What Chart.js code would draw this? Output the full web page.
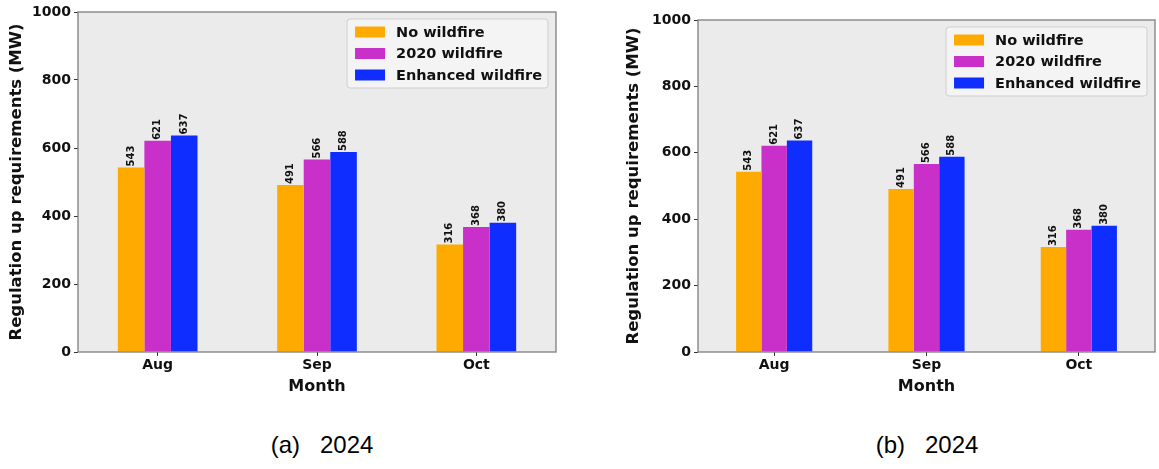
<!DOCTYPE html>
<html>
<head>
<meta charset="utf-8">
<script src="https://cdn.jsdelivr.net/npm/chart.js@4.4.1/dist/chart.umd.min.js"></script>
<style>
  html, body { margin: 0; padding: 0; background: #fff; }
  body { width: 1159px; height: 469px; position: relative; overflow: hidden; }
  .panel { position: absolute; top: 0; height: 400px; }
  .cap {
    position: absolute; top: 433px;
    font-family: "Liberation Sans", Arial, sans-serif;
    font-size: 24px; line-height: 24px; white-space: pre; color: #000;
    transform: translateX(-50%);
  }
</style>
</head>
<body>
<div class="panel" style="left:0;width:580px"><canvas id="chartA"></canvas></div>
<div class="panel" style="left:580px;width:579px"><canvas id="chartB"></canvas></div>
<div class="cap" style="left:322px">(a)   2024</div>
<div class="cap" style="left:927px">(b)   2024</div>
<script>
// Monthly regulation-up requirements (MW) for 2024
const months = ['Aug', 'Sep', 'Oct'];
const noWildfire = [543, 491, 316];
const wildfire2020 = [621, 566, 368];
const enhancedWildfire = [637, 588, 380];
const yTicks = [0, 200, 400, 600, 800, 1000];

const seriesNames = ['No wildfire', '2020 wildfire', 'Enhanced wildfire'];
const seriesColors = ['#FFAA00', '#C92FC9', '#0F2DFF'];

const FONT = '"DejaVu Sans", Verdana, sans-serif';

// Plot background and frame around the chart area
const framePlugin = {
  id: 'frame',
  beforeDatasetsDraw(chart) {
    const { ctx, chartArea: a } = chart;
    ctx.save();
    ctx.fillStyle = '#EBEBEB';
    ctx.fillRect(a.left, a.top, a.right - a.left, a.bottom - a.top);
    ctx.restore();
  },
  afterDatasetsDraw(chart) {
    const { ctx, chartArea: a } = chart;
    ctx.save();
    ctx.strokeStyle = '#7E7E7E';
    ctx.lineWidth = 1.3;
    ctx.strokeRect(a.left, a.top, a.right - a.left, a.bottom - a.top);
    ctx.restore();
  }
};

// Rotated value labels above each bar
const valueLabelPlugin = {
  id: 'valueLabels',
  afterDatasetsDraw(chart) {
    const { ctx } = chart;
    ctx.save();
    ctx.font = 'bold 10px ' + FONT;
    ctx.fillStyle = '#111';
    ctx.textAlign = 'left';
    ctx.textBaseline = 'middle';
    chart.data.datasets.forEach((ds, i) => {
      chart.getDatasetMeta(i).data.forEach((bar, j) => {
        ctx.save();
        ctx.translate(bar.x, bar.y - 1);
        ctx.rotate(-Math.PI / 2);
        ctx.fillText(String(ds.data[j]), 0, 0);
        ctx.restore();
      });
    });
    ctx.restore();
  }
};

// Legend box drawn inside the upper-right corner of the plot
const insetLegendPlugin = {
  id: 'insetLegend',
  afterDraw(chart) {
    const { ctx, chartArea: a } = chart;
    const dsets = chart.data.datasets;
    ctx.save();
    ctx.font = 'bold 14.5px ' + FONT;
    const textW = Math.max(...dsets.map(d => ctx.measureText(d.label).width));
    const padL = 8, patchW = 30, patchH = 11, gap = 11, padR = 6;
    const w = padL + patchW + gap + textW + padR;
    const h = 69;
    const x = a.right - 8 - w;
    const y = a.top + 7;
    ctx.beginPath();
    ctx.roundRect(x, y, w, h, 3);
    ctx.fillStyle = 'rgba(246,246,246,0.85)';
    ctx.fill();
    ctx.strokeStyle = '#CFCFCF';
    ctx.lineWidth = 1;
    ctx.stroke();
    dsets.forEach((d, i) => {
      const cy = y + 13 + i * 21.5;
      ctx.fillStyle = d.backgroundColor;
      ctx.fillRect(x + padL, cy - patchH / 2, patchW, patchH);
      ctx.fillStyle = '#111';
      ctx.textAlign = 'left';
      ctx.textBaseline = 'middle';
      ctx.fillText(d.label, x + padL + patchW + gap, cy + 1);
    });
    ctx.restore();
  }
};

function makeChart(canvasId, pad, yWidth) {
  const values = [noWildfire, wildfire2020, enhancedWildfire];
  return new Chart(document.getElementById(canvasId), {
    type: 'bar',
    data: {
      labels: months,
      datasets: values.map((v, i) => ({
        label: seriesNames[i],
        data: v,
        backgroundColor: seriesColors[i],
        borderWidth: 0,
        categoryPercentage: 0.5,
        barPercentage: 1.0
      }))
    },
    options: {
      responsive: true,
      maintainAspectRatio: false,
      animation: false,
      layout: { padding: pad },
      plugins: {
        legend: { display: false },
        tooltip: { enabled: false }
      },
      scales: {
        x: {
          offset: true,
          grid: {
            offset: false,
            drawOnChartArea: false,
            drawTicks: true,
            tickLength: 4,
            color: '#333'
          },
          border: { display: false },
          ticks: {
            color: '#111',
            padding: 1,
            font: { family: FONT, size: 14, weight: 'bold' }
          },
          title: {
            display: true,
            text: 'Month',
            color: '#111',
            font: { family: FONT, size: 16, weight: 'bold' }
          },
          afterFit(scale) { scale.height = 48; }
        },
        y: {
          min: 0,
          max: 1000,
          afterBuildTicks(scale) { scale.ticks = yTicks.map(v => ({ value: v })); },
          grid: {
            drawOnChartArea: false,
            drawTicks: true,
            tickLength: 4,
            color: '#333'
          },
          border: { display: false },
          ticks: {
            color: '#111',
            padding: 3,
            font: { family: FONT, size: 14, weight: 'bold' },
            callback: v => String(v)
          },
          title: {
            display: true,
            text: 'Regulation up requirements (MW)',
            color: '#111',
            font: { family: FONT, size: 16.5, weight: 'bold' }
          },
          afterFit(scale) { scale.width = yWidth; }
        }
      }
    },
    plugins: [framePlugin, valueLabelPlugin, insetLegendPlugin]
  });
}

makeChart('chartA', { left: 3, top: 12, right: 24, bottom: 0 }, 75);
makeChart('chartB', { left: 40, top: 20, right: 4, bottom: 0 }, 78);
</script>
</body>
</html>
